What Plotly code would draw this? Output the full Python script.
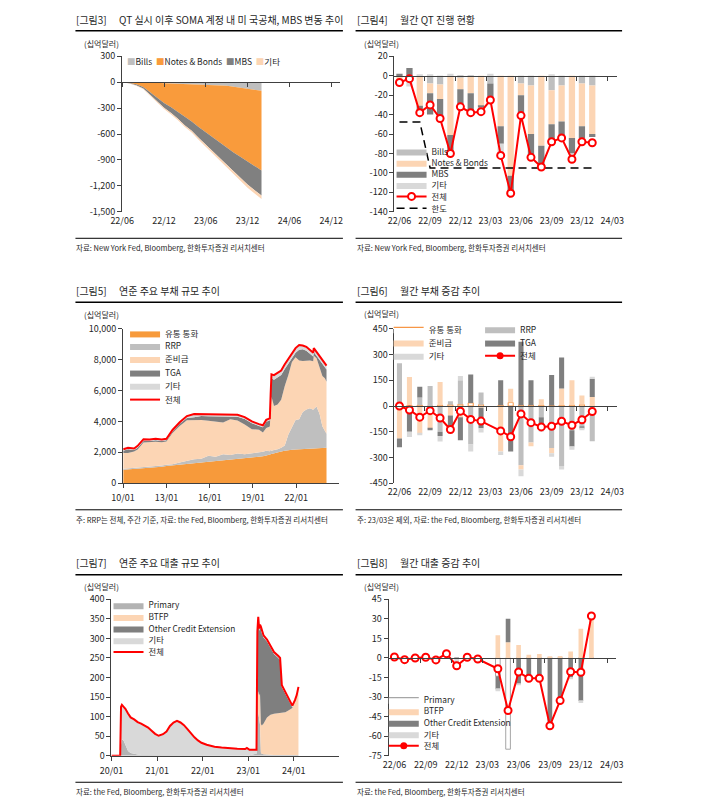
import plotly.graph_objects as go

OFF = 8                          # default page margin of the browser
W, H = 711 - 2 * OFF, 812 - 2 * OFF  # figure fits inside the window, no scrollbars
FONT = "Noto Sans CJK KR"
TXT = "#1f1f1f"
AXC = "#404040"
RED = "#ff0000"


def fx(p):
    return (p - OFF) / W


def fy(p):
    return 1 - (p - OFF) / H


# ---------------- data ----------------
months = ["2022-06-01", "2022-07-01", "2022-08-01", "2022-09-01", "2022-10-01",
          "2022-11-01", "2022-12-01", "2023-01-01", "2023-02-01", "2023-03-01",
          "2023-04-01", "2023-05-01", "2023-06-01", "2023-07-01", "2023-08-01",
          "2023-09-01", "2023-10-01", "2023-11-01", "2023-12-01", "2024-01-01"]

# [그림3] cumulative change of SOMA holdings
p1_dates = months + ["2024-01-31"]
p1_bills = [0, 0, -1, -2, -4, -6, -11, -14, -17, -20, -23, -26, -30, -34, -38, -42, -52, -62, -80, -90, -99]
p1_nb = [0, -8, -24, -53, -111, -174, -229, -276, -328, -383, -432, -494, -551, -606, -662, -721, -763, -803, -835, -875, -923]
p1_mbs = [0, -3, -11, -17, -31, -42, -55, -68, -80, -95, -106, -124, -139, -155, -170, -190, -215, -245, -270, -285, -290]
p1_oth = [0, -4, -6, -8, -10, -12, -14, -16, -17, -18, -20, -22, -24, -26, -28, -30, -32, -34, -36, -38, -40]

# [그림4] monthly QT
p2_bills = [0, 0, 0, -8, -9, 0, -2, -1, 0, -8, 0, 0, -8, -10, 0, -15, -10, 0, -8, -10]
p2_nb = [-7, 0, -31, -10, -15, -61, -12, -17, -31, 0, -52, -103, -12, -50, -72, -35, -37, -64, -44, -50]
p2_mbs = [2, 8, -7, -22, -21, -19, -19, -20, -2, -16, -18, -17, -21, -22, -21, -18, -17, -16, -12, -3]
p2_oth = [0, -11, 1, 1, 0, 2, 0, 0, -4, 2, -12, 0, 0, 0, 0, 1, 0, -6, 0, 0]
p2_total = [-7, -3, -38, -30, -44, -80, -32, -38, -37, -25, -82, -121, -41, -84, -94, -68, -64, -86, -68, -69]
p2_limit = [-47.5, -47.5, -47.5, -95, -95, -95, -95, -95, -95, -95,
            -95, -95, -95, -95, -95, -95, -95, -95, -95, -95]

# [그림5] Fed liabilities
p3_dates = ["2010-01-06", "2010-05-05", "2010-10-06", "2011-01-05", "2011-06-01", "2011-11-02",
            "2012-04-04", "2012-09-05", "2013-01-02", "2013-06-05", "2013-12-04", "2014-06-04",
            "2014-12-03", "2015-06-03", "2015-12-02", "2016-06-01", "2016-12-07", "2017-06-07",
            "2017-12-06", "2018-06-06", "2018-12-05", "2019-06-05", "2019-09-11", "2019-12-04",
            "2020-03-04", "2020-03-25", "2020-04-15", "2020-06-17", "2020-09-16", "2020-12-16",
            "2021-03-17", "2021-06-16", "2021-09-15", "2021-12-15", "2022-03-16", "2022-06-15",
            "2022-09-14", "2022-12-14", "2023-03-08", "2023-03-22", "2023-05-31", "2023-08-16",
            "2023-10-25", "2023-12-27", "2024-02-07"]
p3_cur = [880, 900, 920, 950, 980, 1000, 1040, 1070, 1110, 1150, 1200, 1250, 1300, 1330, 1380,
          1420, 1470, 1520, 1570, 1620, 1680, 1720, 1740, 1800, 1820, 1870, 1900, 1950, 2000, 2050,
          2100, 2150, 2170, 2190, 2200, 2210, 2230, 2250, 2260, 2260, 2270, 2280, 2290, 2300, 2300]
p3_rrp = [60, 60, 60, 60, 60, 70, 70, 70, 80, 80, 150, 200, 250, 250, 400,
          300, 400, 300, 350, 250, 250, 250, 300, 300, 250, 300, 200, 200, 200, 250,
          350, 1000, 1500, 1900, 1950, 2400, 2550, 2600, 2500, 2550, 2700, 2200, 1400, 1100, 900]
p3_res = [1010, 990, 1070, 1170, 1590, 1580, 1570, 1510, 1510, 2020, 2350, 2630, 2530, 2520, 2260,
          2270, 2060, 2320, 2140, 1940, 1570, 1490, 1240, 1480, 1610, 2530, 3500, 2850, 2900, 3100,
          3850, 3850, 4180, 4060, 3800, 3310, 3150, 3100, 3140, 3440, 3130, 2970, 3260, 3400, 3370]
p3_tga = [150, 250, 100, 120, 100, 80, 100, 80, 80, 100, 150, 150, 200, 250, 300,
          350, 400, 200, 250, 350, 380, 250, 350, 400, 400, 900, 1200, 1700, 1750, 1600,
          1100, 750, 250, 300, 700, 750, 650, 400, 300, 250, 150, 500, 750, 700, 800]
p3_oth = [100, 100, 100, 120, 120, 100, 100, 100, 100, 100, 100, 120, 200, 120, 120,
          120, 120, 120, 120, 120, 120, 120, 120, 120, 120, 200, 250, 300, 300, 300,
          300, 300, 300, 300, 300, 250, 250, 250, 250, 250, 250, 250, 250, 250, 250]
p3_total = [2200, 2300, 2250, 2420, 2850, 2830, 2880, 2830, 2880, 3450, 3950, 4350, 4480, 4470, 4460,
            4460, 4450, 4460, 4430, 4280, 4000, 3830, 3750, 4100, 4200, 5800, 7050, 7000, 7150, 7300,
            7700, 8050, 8400, 8750, 8950, 8920, 8830, 8600, 8450, 8750, 8500, 8200, 7950, 7750, 7620]

# [그림6] monthly change of liabilities (23/03 excluded)
p4_cur = [5, 5, 5, 0, 5, 8, 10, 18, 8, None, 5, 20, 5, 5, 5, 3, 5, 5, 8, -3]
p4_rrp = [244, 0, 45, 116, -150, 20, 140, -225, 70, None, 0, 0, -345, -213, -65, -245, -350, -141, -118, -202]
p4_res = [-190, 164, -160, -131, 135, -55, -65, 0, -10, None, -265, 80, -25, -22, 35, -30, 97, 145, 53, 53]
p4_tga = [-50, -150, 62, -10, -25, -95, -135, 165, -120, None, 145, -265, 370, 145, -57, 177, 180, -95, -13, 106]
p4_oth = [0, -30, -10, 0, -32, -10, 25, -40, -25, None, -20, 0, -40, 0, -28, -20, -20, -19, -10, 10]
p4_total = [0, -23, -65, -27, -70, -137, -30, -78, -88, None, -145, -179, -46, -97, -122, -118, -89, -112, -80, -32]

# [그림7] Fed lending
p5_dates = ["2020-01-01", "2020-03-04", "2020-03-11", "2020-03-18", "2020-03-25", "2020-04-08",
            "2020-04-22", "2020-05-13", "2020-06-03", "2020-07-01", "2020-07-29", "2020-08-26",
            "2020-09-23", "2020-10-21", "2020-11-18", "2020-12-16", "2021-01-13", "2021-02-17",
            "2021-03-17", "2021-04-14", "2021-05-12", "2021-06-09", "2021-07-07", "2021-08-04",
            "2021-09-01", "2021-09-29", "2021-10-27", "2021-11-24", "2021-12-22", "2022-02-02",
            "2022-04-06", "2022-06-01", "2022-08-03", "2022-10-05", "2022-12-07", "2022-12-21",
            "2023-01-11", "2023-03-08", "2023-03-15", "2023-03-22", "2023-03-29", "2023-04-05",
            "2023-04-12", "2023-04-19", "2023-05-03", "2023-05-31", "2023-06-28", "2023-07-26",
            "2023-08-30", "2023-09-13", "2023-09-27", "2023-10-25", "2023-11-22", "2023-12-20",
            "2024-01-10", "2024-01-24", "2024-02-07"]
p5_primary = [0, 0, 0, 28, 42, 38, 28, 12, 7, 4, 3, 2, 2, 2, 2, 2, 1, 1, 1, 1, 1, 1, 1, 1, 1, 1, 1, 1, 1,
              1, 1, 1, 1, 1, 1, 1, 1, 5, 150, 110, 90, 80, 8, 5, 4, 3, 3, 2, 2, 2, 2, 2, 2, 2, 2, 2, 2]
p5_btfp = [0, 0, 0, 0, 0, 0, 0, 0, 0, 0, 0, 0, 0, 0, 0, 0, 0, 0, 0, 0, 0, 0, 0, 0, 0, 0, 0, 0, 0,
           0, 0, 0, 0, 0, 0, 0, 0, 0, 12, 54, 64, 79, 73, 72, 78, 95, 102, 105, 107, 108, 108, 109,
           114, 120, 140, 153, 174]
p5_oce = [0, 0, 0, 0, 0, 0, 0, 0, 0, 0, 0, 0, 0, 0, 0, 0, 0, 0, 0, 0, 0, 0, 0, 0, 0, 0, 0, 0, 0,
          0, 0, 0, 0, 0, 0, 0, 0, 0, 150, 185, 165, 170, 243, 237, 220, 194, 170, 153, 141, 135, 65,
          46, 27, 2, 0, 0, 0]
p5_oth = [0, 0, 0, 97, 88, 87, 92, 96, 91, 89, 83, 80, 76, 70, 62, 54, 50, 54, 61, 75, 84, 88, 84, 77,
          67, 56, 46, 38, 32, 27, 22, 20, 18, 17, 16, 19, 14, 10, 6, 6, 6, 6, 6, 6, 6, 5, 5, 5, 5, 5,
          5, 5, 5, 4, 0, 0, 0]
p5_total = [0, 0, 0, 125, 130, 125, 120, 108, 98, 93, 86, 82, 78, 72, 64, 56, 51, 55, 62, 76, 85, 89,
            85, 78, 68, 57, 47, 39, 33, 28, 23, 21, 19, 18, 17, 20, 15, 15, 318, 355, 325, 335, 330,
            320, 308, 297, 280, 265, 255, 250, 180, 162, 148, 128, 142, 155, 176]

# [그림8] monthly change of lending (23/03 excluded)
p6_primary = [0, 0, 0, 0, 0, 0, 0, 0, 0, None, -14, -70, 0, 0, 0, 0, 0, 0, 0, 0]
p6_btfp = [0, 0, 0, 0, 0, 0, 0, 0, 0, None, 17.5, 12, 10, 2.5, 3, 1, 1.5, 5, 22.5, 30]
p6_oce = [0, 0, 0, 0, 0, 0, 0, 0, 0, None, -10, 18, -20, -15, -16, -50, -32, -15, -33, 0]
p6_oth = [0.5, -1, 0, 0.5, -1.5, 2, -3.5, 0.5, -1, None, -1.5, 0, -1, -1, 0, -1, -1, -1, -1.5, 0]
p6_total = [0.7, -1.3, 0, 0.5, -1.5, 3.3, -6, 0.5, -0.8, None, -8.3, -40.3, -10.8, -15.6, -15.6,
            -52, -32.7, -10.6, -11, 32.2]

# ---------------- figure ----------------
fig = go.Figure()
legends = {}
_leg_n = [1]


def new_legend(x_px, y_px, size=8):
    _leg_n[0] += 1
    key = "legend%d" % _leg_n[0]
    legends[key] = dict(x=fx(x_px), y=fy(y_px), xanchor="left", yanchor="middle",
                        bgcolor="rgba(0,0,0,0)", borderwidth=0, itemwidth=30,
                        tracegroupgap=0, font=dict(family=FONT, size=size, color=TXT))
    return key


def swatch(name, color, xa, ya, x_px, y_px, outline=None, size=8):
    fig.add_trace(go.Scatter(
        x=[None], y=[None], name=name, mode="lines", fill="toself", fillcolor=color,
        line=dict(color=outline or color, width=1.2 if outline else 0),
        xaxis=xa, yaxis=ya, legend=new_legend(x_px, y_px, size), hoverinfo="skip"))


# ---- Panel 1: stacked areas
for name, vals, col in [("Bills", p1_bills, "#bfbfbf"), ("Notes & Bonds", p1_nb, "#f99b3c"),
                        ("MBS", p1_mbs, "#808080"), ("기타", p1_oth, "#fcd5b4")]:
    fig.add_trace(go.Scatter(x=p1_dates, y=vals, name=name, stackgroup="p1", mode="lines",
                             line=dict(width=0, color=col), fillcolor=col, showlegend=False,
                             xaxis="x", yaxis="y", hoverinfo="skip"))

# ---- Panel 2: monthly QT bars
BW2 = 0.62 * 30.4 * 86400000
p2_cols = [("Bills", p2_bills, "#bfbfbf"), ("Notes & Bonds", p2_nb, "#fcd5b4"),
           ("MBS", p2_mbs, "#7f7f7f"), ("기타", p2_oth, "#d9d9d9")]
for name, vals, col in p2_cols:
    fig.add_trace(go.Bar(x=months, y=vals, name=name, width=BW2, marker=dict(color=col, line=dict(width=0)),
                         showlegend=False, xaxis="x2", yaxis="y2", hoverinfo="skip"))
fig.add_trace(go.Scatter(x=months, y=p2_limit, name="한도", mode="lines",
                         line=dict(color="#000000", width=1.5, dash="8px,5px"),
                         showlegend=False, xaxis="x2", yaxis="y2", hoverinfo="skip"))
fig.add_trace(go.Scatter(x=months, y=p2_total, name="전체", mode="lines+markers",
                         line=dict(color=RED, width=2),
                         marker=dict(size=7, color="white", line=dict(color=RED, width=2)),
                         showlegend=False, xaxis="x2", yaxis="y2", hoverinfo="skip"))
p2_leg_y = [146.7, 158.3, 169.5, 180.8]
for (name, vals, col), yy in zip(p2_cols, p2_leg_y):
    swatch(name, col, "x2", "y2", 390, yy, size=8.3)
fig.add_trace(go.Scatter(x=[None], y=[None], name="전체", mode="lines+markers",
                         line=dict(color=RED, width=2),
                         marker=dict(size=7, color="white", line=dict(color=RED, width=2)),
                         xaxis="x2", yaxis="y2", legend=new_legend(390, 192.4, 8.3), hoverinfo="skip"))
fig.add_trace(go.Scatter(x=[None], y=[None], name="한도", mode="lines",
                         line=dict(color="#000000", width=1.5, dash="8px,5px"),
                         xaxis="x2", yaxis="y2", legend=new_legend(390, 204.5, 8.3), hoverinfo="skip"))

# ---- Panel 3: liabilities areas
p3_series = [("유통 통화", p3_cur, "#f79a3b", 331.7), ("RRP", p3_rrp, "#bfbfbf", 344.5),
             ("준비금", p3_res, "#fcd5b4", 357.8), ("TGA", p3_tga, "#7f7f7f", 371.5),
             ("기타", p3_oth, "#d9d9d9", 385)]
for name, vals, col, ly in p3_series:
    fig.add_trace(go.Scatter(x=p3_dates, y=vals, name=name, stackgroup="p3", mode="lines",
                             line=dict(width=0, color=col), fillcolor=col,
                             xaxis="x3", yaxis="y3", legend=new_legend(116, ly, 8.5), hoverinfo="skip"))
fig.add_trace(go.Scatter(x=p3_dates, y=p3_total, name="전체", mode="lines",
                         line=dict(color=RED, width=2), xaxis="x3", yaxis="y3",
                         legend=new_legend(116, 399, 8.5), hoverinfo="skip"))

# ---- Panel 4: liability changes bars
BW4 = 0.5 * 30.4 * 86400000
p4_cols = [("유통 통화", p4_cur, "#ffffff", "#f79646"), ("RRP", p4_rrp, "#bfbfbf", None),
           ("준비금", p4_res, "#fcd5b4", None), ("TGA", p4_tga, "#7f7f7f", None),
           ("기타", p4_oth, "#d9d9d9", None)]
for name, vals, col, oc in p4_cols:
    fig.add_trace(go.Bar(x=months, y=vals, name=name, width=BW4,
                         marker=dict(color=col, line=dict(width=1 if oc else 0, color=oc or col)),
                         showlegend=False, xaxis="x4", yaxis="y4", hoverinfo="skip"))
fig.add_trace(go.Scatter(x=months, y=p4_total, name="전체", mode="lines+markers", connectgaps=True,
                         line=dict(color=RED, width=2),
                         marker=dict(size=7, color="white", line=dict(color=RED, width=2)),
                         showlegend=False, xaxis="x4", yaxis="y4", hoverinfo="skip"))
p4_leg_pos = {"유통 통화": (387, 327.5), "준비금": (387, 341), "기타": (387, 354.5),
              "RRP": (481, 327.5), "TGA": (481, 341)}
for name, vals, col, oc in p4_cols:
    lx, ly = p4_leg_pos[name]
    swatch(name, col, "x4", "y4", lx, ly, outline=oc, size=8.5)
fig.add_trace(go.Scatter(x=[None], y=[None], name="전체", mode="lines+markers",
                         line=dict(color=RED, width=2), marker=dict(size=7, color=RED),
                         xaxis="x4", yaxis="y4", legend=new_legend(481, 354.5, 8.5), hoverinfo="skip"))

# ---- Panel 5: lending areas
p5_series = [("Primary", p5_primary, "#b3b3b3", 608), ("BTFP", p5_btfp, "#fcd5b4", 620),
             ("Other Credit Extension", p5_oce, "#7f7f7f", 631.8), ("기타", p5_oth, "#d9d9d9", 643.6)]
for name, vals, col, ly in p5_series:
    fig.add_trace(go.Scatter(x=p5_dates, y=vals, name=name, stackgroup="p5", mode="lines",
                             line=dict(width=0, color=col), fillcolor=col,
                             xaxis="x5", yaxis="y5", legend=new_legend(99, ly, 8.3), hoverinfo="skip"))
fig.add_trace(go.Scatter(x=p5_dates, y=p5_total, name="전체", mode="lines",
                         line=dict(color=RED, width=2), xaxis="x5", yaxis="y5",
                         legend=new_legend(99, 655.5, 8.3), hoverinfo="skip"))

# ---- Panel 6: lending change bars
BW6 = 0.45 * 30.4 * 86400000
p6_cols = [("Primary", p6_primary, "#ffffff", "#a6a6a6"), ("BTFP", p6_btfp, "#fcd5b4", None),
           ("Other Credit Extension", p6_oce, "#7f7f7f", None), ("기타", p6_oth, "#d9d9d9", None)]
for name, vals, col, oc in p6_cols:
    fig.add_trace(go.Bar(x=months, y=vals, name=name, width=BW6,
                         marker=dict(color=col, line=dict(width=1 if oc else 0, color=oc or col)),
                         showlegend=False, xaxis="x6", yaxis="y6", hoverinfo="skip"))
fig.add_trace(go.Scatter(x=months, y=p6_total, name="전체", mode="lines+markers", connectgaps=True,
                         line=dict(color=RED, width=2),
                         marker=dict(size=7, color="white", line=dict(color=RED, width=2)),
                         showlegend=False, xaxis="x6", yaxis="y6", hoverinfo="skip"))
for (name, vals, col, oc), ly in zip(p6_cols, [704, 715.7, 727.4, 739.2]):
    swatch(name, col, "x6", "y6", 382, ly, outline=oc, size=8.3)
fig.add_trace(go.Scatter(x=[None], y=[None], name="전체", mode="lines+markers",
                         line=dict(color=RED, width=2), marker=dict(size=7, color=RED),
                         xaxis="x6", yaxis="y6", legend=new_legend(382, 751, 8.3), hoverinfo="skip"))

# dummy traces so the zero-line axes exist
for xa, ya in [("x7", "y"), ("x8", "y2"), ("x9", "y4"), ("x10", "y6")]:
    fig.add_trace(go.Scatter(x=[None], y=[None], xaxis=xa, yaxis=ya, showlegend=False,
                             hoverinfo="skip"))

# ---------------- axes ----------------
tickfont = dict(family=FONT, size=9, color=TXT)


def yax(top, bot, rng, vals, texts, anchor):
    return dict(domain=[fy(bot), fy(top)], range=rng, tickvals=vals, ticktext=texts,
                showline=True, linecolor=AXC, linewidth=1, ticks="outside", ticklen=4,
                tickcolor=AXC, showgrid=False, zeroline=False, tickfont=tickfont,
                anchor=anchor, fixedrange=True)


def xax(left, right, rng, dtick, tick0, anchor, line):
    d = dict(domain=[fx(left), fx(right)], range=rng, type="date", dtick=dtick, tick0=tick0,
             tickformat="%y/%m", showgrid=False, zeroline=False, tickfont=tickfont,
             anchor=anchor, fixedrange=True, ticklabelstandoff=2)
    if line:
        d.update(showline=True, linecolor=AXC, linewidth=1, ticks="outside", ticklen=4,
                 tickcolor=AXC)
    else:
        d.update(showline=False, ticks="")
    return d


def zero_ax(base, left, right, rng, dtick, tick0, ypix):
    return dict(overlaying=base, anchor="free", position=fy(ypix), domain=[fx(left), fx(right)],
                range=rng, type="date", dtick=dtick, tick0=tick0, showticklabels=False,
                showline=True, linecolor=AXC, linewidth=1, ticks="outside", ticklen=4,
                tickcolor=AXC, showgrid=False, zeroline=False, fixedrange=True)


r1 = ["2022-06-01", "2025-01-08"]
r2 = ["2022-05-17", "2024-03-16"]
r6 = ["2022-05-15", "2024-03-14"]
r3 = ["2010-01-01", "2024-12-20"]
r5 = ["2020-01-01", "2024-12-28"]

layout_axes = dict(
    xaxis=xax(113, 337, r1, "M6", "2022-06-01", "y", False),
    yaxis=yax(50, 208, [-1500, 300], [300, 0, -300, -600, -900, -1200, -1500],
              ["300", "0", "-300", "-600", "-900", "-1,200", "-1,500"], "x"),
    xaxis2=xax(393, 622, r2, "M3", "2022-06-01", "y2", False),
    yaxis2=yax(50, 208, [-140, 20], [20, 0, -20, -40, -60, -80, -100, -120, -140],
               ["20", "0", "-20", "-40", "-60", "-80", "-100", "-120", "-140"], "x2"),
    xaxis3=xax(114, 336, r3, "M36", "2010-01-01", "y3", True),
    yaxis3=yax(327, 484, [0, 10000], [0, 2000, 4000, 6000, 8000, 10000],
               ["0", "2,000", "4,000", "6,000", "8,000", "10,000"], "x3"),
    xaxis4=xax(393, 622, r2, "M3", "2022-06-01", "y4", False),
    yaxis4=yax(327, 484, [-450, 450], [450, 300, 150, 0, -150, -300, -450],
               ["450", "300", "150", "0", "-150", "-300", "-450"], "x4"),
    xaxis5=xax(102, 336, r5, "M12", "2020-01-01", "y5", True),
    yaxis5=yax(602, 761, [0, 400], [0, 50, 100, 150, 200, 250, 300, 350, 400],
               ["0", "50", "100", "150", "200", "250", "300", "350", "400"], "x5"),
    xaxis6=xax(387, 621, r6, "M3", "2022-06-01", "y6", False),
    yaxis6=yax(602, 761, [-75, 45], [45, 30, 15, 0, -15, -30, -45, -60, -75],
               ["45", "30", "15", "0", "-15", "-30", "-45", "-60", "-75"], "x6"),
    xaxis7=zero_ax("x", 113, 337, r1, "M6", "2022-06-01", 76.3),
    xaxis8=zero_ax("x2", 393, 622, r2, "M3", "2022-05-16", 69.75),
    xaxis9=zero_ax("x4", 393, 622, r2, "M3", "2022-05-16", 405.5),
    xaxis10=zero_ax("x6", 387, 621, r6, "M3", "2022-05-16", 661.6),
)

# ---------------- texts & rules ----------------
annotations = []
shapes = []


def text(x, y, s, size, anchor="left"):
    annotations.append(dict(x=fx(x), y=fy(y), xref="paper", yref="paper", text=s, showarrow=False,
                            xanchor=anchor, yanchor="middle",
                            font=dict(family=FONT, size=size, color=TXT)))


def hline(x0, x1, y, w):
    shapes.append(dict(type="line", xref="paper", yref="paper", x0=fx(x0), x1=fx(x1),
                       y0=fy(y), y1=fy(y), line=dict(color="#000000", width=w)))


blocks = [
    (65, 340, 108, 13, 24, 37, 235, 244, "[그림3]", "QT 실시 이후 SOMA 계정 내 미 국공채, MBS 변동 추이",
     "자료: New York Fed, Bloomberg, 한화투자증권 리서치센터"),
    (353, 627, 397, 13, 24, 37, 235, 244, "[그림4]", "월간 QT 진행 현황",
     "자료: New York Fed, Bloomberg, 한화투자증권 리서치센터"),
    (65, 340, 108, 288, 300, 312, 511, 521, "[그림5]", "연준 주요 부채 규모 추이",
     "주: RRP는 전체, 주간 기준, 자료: the Fed, Bloomberg, 한화투자증권 리서치센터"),
    (353, 627, 397, 288, 300, 311, 511, 521, "[그림6]", "월간 부채 증감 추이",
     "주: 23/03은 제외, 자료: the Fed, Bloomberg, 한화투자증권 리서치센터"),
    (65, 340, 108, 565, 577, 589, 788, 797, "[그림7]", "연준 주요 대출 규모 추이",
     "자료: the Fed, Bloomberg, 한화투자증권 리서치센터"),
    (353, 627, 397, 565, 577, 589, 788, 797, "[그림8]", "월간 대출 증감 추이",
     "자료: the Fed, Bloomberg, 한화투자증권 리서치센터"),
]
for (xl, xr, tx, ty, ry, uy, by, sy, num, title, src) in blocks:
    text(xl - 1, ty, num, 10)
    text(tx, ty, title, 10)
    hline(xl, xr, ry, 1.5)
    text(xl + 7, uy, "(십억달러)", 8)
    hline(xl, xr, by, 1)
    text(xl - 1, sy, src, 7.5)

# panel 1 legend row
text(116, 55, '<span style="color:#bfbfbf">■</span>Bills  '
              '<span style="color:#f99b3c">■</span>Notes &amp; Bonds  '
              '<span style="color:#808080">■</span>MBS  '
              '<span style="color:#fcd5b4">■</span>기타', 8.5)

fig.update_layout(
    width=W, height=H, margin=dict(l=0, r=0, t=0, b=0),
    paper_bgcolor="white", plot_bgcolor="rgba(0,0,0,0)",
    barmode="relative", showlegend=True,
    font=dict(family=FONT, size=9, color=TXT),
    annotations=annotations, shapes=shapes,
    **layout_axes, **legends,
)

fig.write_html("out.html")
